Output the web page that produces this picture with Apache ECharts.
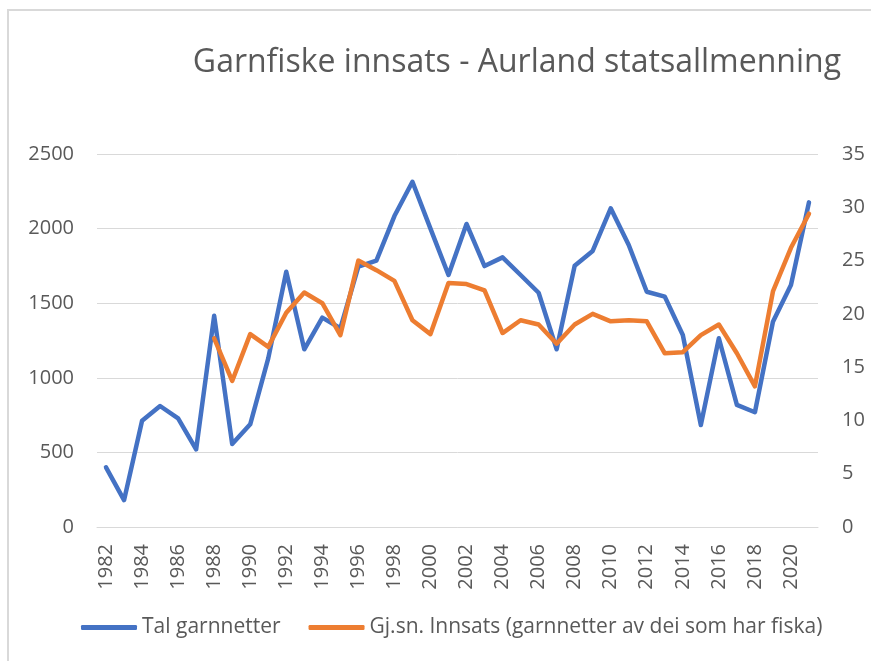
<!DOCTYPE html>
<html>
<head>
<meta charset="utf-8">
<title>Garnfiske innsats</title>
<script src="https://cdn.jsdelivr.net/npm/echarts@6/dist/echarts.min.js"></script>
<style>
  html, body { margin: 0; padding: 0; background: #fff; }
  #frame {
    position: absolute; left: 7px; top: 9px;
    width: 1000px; height: 1000px;
    border: 2px solid #d9d9d9;
  }
  #chart { position: absolute; left: 0; top: 0; width: 871px; height: 661px; }
</style>
</head>
<body>
<div id="frame"></div>
<div id="chart"></div>
<script>
// year labels
const years = []
for (let y = 1982; y <= 2021; y++) years.push(String(y))

// Tal garnnetter (left axis)
const talGarnnetter = [
  400, 180, 712, 811, 728, 520, 1416, 556, 688, 1130,
  1711, 1191, 1403, 1332, 1745, 1785, 2084, 2314, 2000, 1689,
  2031, 1749, 1807, 1689, 1570, 1191, 1751, 1850, 2136, 1890,
  1577, 1544, 1287, 684, 1265, 818, 769, 1376, 1622, 2176
]

// Gj.sn. Innsats (right axis), no data before 1988
const gjsnInnsats = [
  null, null, null, null, null, null, 17.7, 13.7, 18.1, 16.9,
  20.1, 22.0, 21.0, 18.0, 25.0, 24.1, 23.1, 19.4, 18.1, 22.9,
  22.8, 22.2, 18.2, 19.4, 19.0, 17.2, 19.0, 20.0, 19.3, 19.4,
  19.3, 16.3, 16.4, 18.0, 19.0, 16.3, 13.2, 22.1, 26.2, 29.4
]

const textColor = '#595959'
const gridColor = '#d9d9d9'
const font = '"Open Sans", sans-serif'

const chart = echarts.init(document.getElementById('chart'))

const option = {
  animation: false,
  textStyle: { fontFamily: font },
  title: {
    text: 'Garnfiske innsats - Aurland statsallmenning',
    right: 25,
    top: 42,
    textStyle: {
      fontFamily: font,
      fontSize: 32,
      fontWeight: 'normal',
      color: textColor
    }
  },
  legend: {
    left: 81,
    top: 617,
    padding: 0,
    itemGap: 28,
    itemWidth: 56,
    itemHeight: 5,
    icon: 'roundRect',
    textStyle: { fontSize: 21, color: textColor, fontFamily: font },
    data: ['Tal garnnetter', 'Gj.sn. Innsats (garnnetter av dei som har fiska)']
  },
  grid: {
    left: 97,
    right: 53,
    top: 154,
    bottom: 134
  },
  xAxis: {
    type: 'category',
    data: years,
    boundaryGap: true,
    axisTick: { show: false },
    axisLine: { lineStyle: { color: gridColor, width: 1 } },
    axisLabel: {
      interval: 1,
      rotate: 90,
      margin: 17,
      fontSize: 20,
      color: textColor
    }
  },
  yAxis: [
    {
      type: 'value',
      min: 0,
      max: 2500,
      interval: 500,
      axisLine: { show: false },
      axisTick: { show: false },
      axisLabel: { margin: 23, fontSize: 20, color: textColor, formatter: v => String(v) },
      splitLine: { lineStyle: { color: gridColor, width: 1 } }
    },
    {
      type: 'value',
      min: 0,
      max: 35,
      interval: 5,
      axisLine: { show: false },
      axisTick: { show: false },
      axisLabel: { margin: 24, fontSize: 20, color: textColor, formatter: v => String(v) },
      splitLine: { show: false }
    }
  ],
  series: [
    {
      name: 'Tal garnnetter',
      type: 'line',
      data: talGarnnetter,
      yAxisIndex: 0,
      symbol: 'none',
      color: '#4472c4',
      lineStyle: { width: 4.5, cap: 'round', join: 'round' }
    },
    {
      name: 'Gj.sn. Innsats (garnnetter av dei som har fiska)',
      type: 'line',
      data: gjsnInnsats,
      yAxisIndex: 1,
      symbol: 'none',
      color: '#ed7d31',
      lineStyle: { width: 4.5, cap: 'round', join: 'round' }
    }
  ]
}

chart.setOption(option)
</script>
</body>
</html>
